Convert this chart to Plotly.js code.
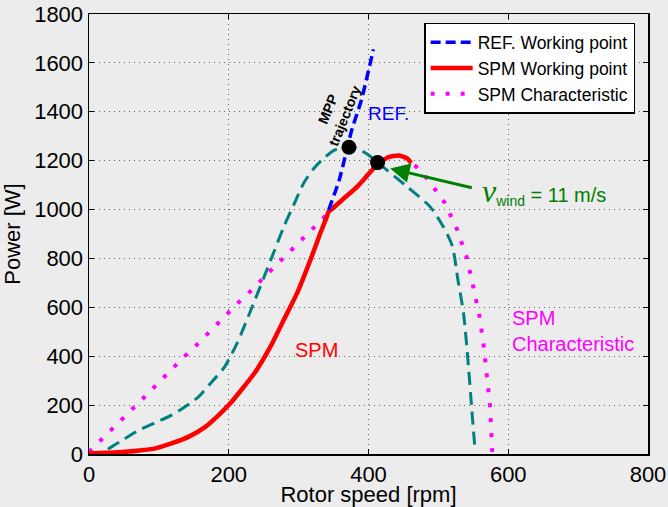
<!DOCTYPE html>
<html>
<head>
<meta charset="utf-8">
<script src="https://cdn.plot.ly/plotly-3.0.1.min.js"></script>
<style>
html,body{margin:0;padding:0;background:#ececec;}
#chart{width:668px;height:507px;}
</style>
</head>
<body>
<div id="chart"></div>
<script>
// Characteristic curve at v_wind = 11 m/s (teal dashed, not in legend)
const tealRpm   = [0, 10, 21, 48, 72, 95, 119, 138, 157, 176, 193, 212, 231, 250, 264, 279, 293, 307, 322, 336, 350, 365, 375, 384, 398, 426, 455, 488, 507, 520, 528, 536, 543, 548, 552];
const tealPower = [0, 0, 10, 57, 98, 128, 160, 194, 235, 296, 352, 454, 584, 720, 822, 931, 1019, 1107, 1169, 1210, 1241, 1257, 1258, 1250, 1227, 1162, 1094, 1012, 930, 850, 712, 576, 360, 175, 34];

// REF. working point (MPP trajectory)
const refRpm   = [343, 358, 376, 390, 407];
const refPower = [999, 1120, 1325, 1450, 1655];

// SPM working point
const spmRpm   = [0, 24, 48, 72, 95, 119, 143, 167, 186, 200, 220, 239, 260, 279, 298, 317, 331, 340, 343, 346, 365, 384, 403, 413, 428, 443, 455, 461];
const spmPower = [2, 5, 8, 14, 23, 44, 71, 112, 160, 200, 269, 340, 441, 550, 659, 795, 903, 968, 992, 998, 1046, 1094, 1155, 1185, 1214, 1221, 1210, 1190];

// SPM characteristic
const chrRpm   = [0, 16, 31, 46, 62, 77, 92, 107, 123, 138, 154, 169, 184, 199, 214, 230, 244, 260, 275, 291, 306, 321, 336, 343, 346, 365, 384, 403, 413, 428, 443, 455, 461, 468, 483, 496, 509, 527, 541, 550, 559, 565, 570, 574, 576, 577];
const chrPower = [9, 53, 95, 139, 183, 226, 270, 314, 358, 403, 446, 490, 533, 577, 620, 663, 706, 750, 793, 837, 880, 924, 967, 992, 998, 1046, 1094, 1155, 1185, 1214, 1221, 1210, 1190, 1176, 1130, 1080, 1029, 917, 801, 682, 561, 439, 316, 194, 74, 9];

// Operating points (black dots)
const ptRpm   = [372, 413];
const ptPower = [1255, 1192];

const FONT = 'Liberation Sans, Arial, Helvetica, sans-serif';

const traces = [
  {x: tealRpm, y: tealPower, mode: 'lines', showlegend: false, hoverinfo: 'skip',
   line: {color: '#008080', width: 3, dash: '13px,7px', shape: 'spline', smoothing: 0.7}},
  {x: chrRpm, y: chrPower, mode: 'lines', name: 'SPM Characteristic',
   line: {color: '#ff00ff', width: 4, dash: '4px,11px'}},
  {x: spmRpm, y: spmPower, mode: 'lines', name: 'SPM Working point',
   line: {color: '#ff0000', width: 4.5, shape: 'spline', smoothing: 0.5}},
  {x: refRpm, y: refPower, mode: 'lines', name: 'REF. Working point',
   line: {color: '#0000ff', width: 3.5, dash: '10px,5px', shape: 'spline', smoothing: 0.6}},
  {x: ptRpm, y: ptPower, mode: 'markers', showlegend: false, hoverinfo: 'skip',
   marker: {color: '#000000', size: 15}}
];

const axisCommon = {
  showline: true, linecolor: '#000', linewidth: 1.5, mirror: 'ticks',
  ticks: 'inside', ticklen: 5, tickcolor: '#000', tickwidth: 1,
  showgrid: true, gridcolor: '#666', griddash: '1px,4px', gridwidth: 1,
  zeroline: false, tickfont: {family: FONT, size: 22, color: '#000'}
};

const layout = {
  width: 668, height: 507,
  margin: {l: 89, r: 20, t: 14, b: 53},
  paper_bgcolor: '#ececec', plot_bgcolor: '#ececec',
  font: {family: FONT, color: '#000'},
  xaxis: Object.assign({}, axisCommon, {
    range: [0, 800], dtick: 200, tick0: 0,
    title: {text: 'Rotor speed [rpm]', font: {family: FONT, size: 22, color: '#000'}, standoff: 1}
  }),
  yaxis: Object.assign({}, axisCommon, {
    range: [0, 1800], dtick: 200, tick0: 0,
    title: {text: 'Power [W]', font: {family: FONT, size: 22, color: '#000'}, standoff: 8}
  }),
  legend: {
    x: 0.977, xanchor: 'right', y: 0.98, yanchor: 'top',
    bgcolor: '#ffffff', bordercolor: '#000', borderwidth: 1.5,
    font: {family: FONT, size: 17.5, color: '#000'},
    itemwidth: 42,
    traceorder: 'reversed'
  },
  annotations: [
    {x: 354, y: 1399, xref: 'x', yref: 'y', text: '<b>MPP<br>trajectory</b>', showarrow: false,
     textangle: -68, font: {family: FONT, size: 14, color: '#000'}},
    {x: 428, y: 1395, xref: 'x', yref: 'y', text: 'REF.', showarrow: false,
     font: {family: FONT, size: 19, color: '#0000ff'}},
    {x: 325, y: 425, xref: 'x', yref: 'y', text: 'SPM', showarrow: false,
     font: {family: FONT, size: 20, color: '#ff0000'}},
    {x: 603, y: 503, xref: 'x', yref: 'y', text: 'SPM<br>Characteristic', showarrow: false,
     xanchor: 'left', align: 'left', font: {family: FONT, size: 20, color: '#ff00ff'}},
    {x: 431, y: 1168, xref: 'x', yref: 'y', ax: 550, ay: 1088, axref: 'x', ayref: 'y',
     text: '', showarrow: true, arrowcolor: '#008000', arrowwidth: 3, arrowhead: 2, arrowsize: 1.3},
    {x: 560, y: 1075, xref: 'x', yref: 'y', xanchor: 'left', showarrow: false,
     text: '<span style="font-family:Liberation Serif, Times New Roman, serif;font-size:32px"><i>v</i></span><sub>wind</sub> = 11 m/s',
     font: {family: FONT, size: 20, color: '#008000'}}
  ]
};

Plotly.newPlot('chart', traces, layout, {displayModeBar: false, staticPlot: true});
</script>
</body>
</html>
